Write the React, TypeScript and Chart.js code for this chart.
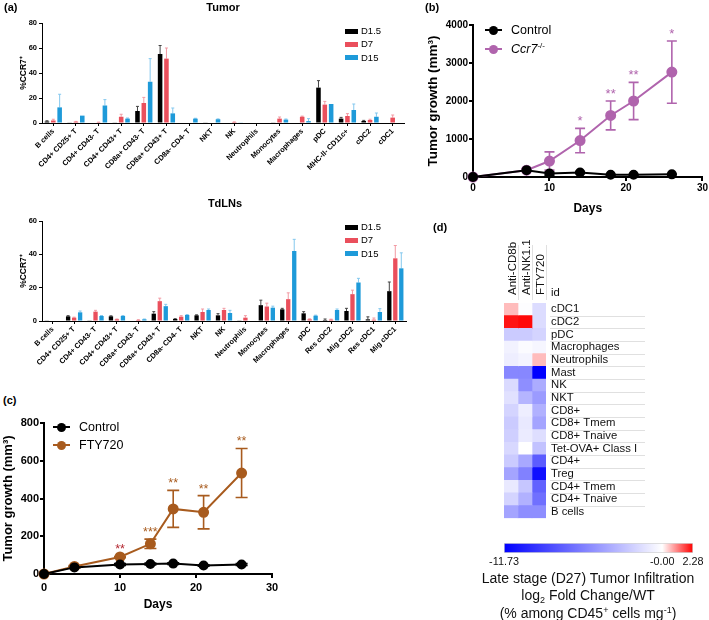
import React, { useEffect, useRef } from 'react';
import { Chart, registerables } from 'chart.js';
Chart.register(...registerables);

const FONT = "Arial, 'Liberation Sans', Helvetica, sans-serif";

// ---------- (a) Tumor ----------
const tumorCategories = ['B cells', 'CD4+ CD25+ T', 'CD4+ CD43- T', 'CD4+ CD43+ T', 'CD8a+ CD43- T', 'CD8a+ CD43+ T', 'CD8a- CD4- T', 'NKT', 'NK', 'Neutrophils', 'Monocytes', 'Macrophages', 'pDC', 'MHC-II- CD11c+', 'cDC2', 'cDC1'];
const tumorD15Day = [1.2, 0.3, 0, 0.3, 9.6, 55.2, 0, 0.3, 0, 0, 0.3, 0, 28.3, 3.5, 1.6, 0];
const tumorD15DayErr = [0.6, 0, 0, 0, 3.7, 6.8, 0, 0, 0, 0, 0, 0, 5.6, 1, 0.5, 0];
const tumorD7 = [2, 1, 0.5, 5, 16, 51.5, 0, 0.4, 0.7, 0, 3.5, 5, 14.7, 5.6, 2.4, 4.3];
const tumorD7Err = [1, 0.3, 0.2, 2, 4.5, 8.5, 0, 0, 0.2, 0, 1.3, 0.5, 2.6, 1.9, 0.6, 2.1];
const tumorD15 = [12.5, 5.9, 14, 3.5, 33, 7.7, 3.5, 3, 0.3, 0, 2.7, 1.5, 15.2, 10.4, 5, 0];
const tumorD15Err = [10.5, 0, 4.7, 0.5, 18.5, 4.3, 0.3, 0.3, 0, 0, 0.5, 2, 0, 4.8, 3, 0];

// ---------- (a) TdLNs ----------
const lnCategories = ['B cells', 'CD4+ CD25+ T', 'CD4+ CD43- T', 'CD4+ CD43+ T', 'CD8a+ CD43- T', 'CD8a+ CD43+ T', 'CD8a- CD4- T', 'NKT', 'NK', 'Neutrophils', 'Monocytes', 'Macrophages', 'pDC', 'Res cDC2', 'Mig cDC2', 'Res cDC1', 'Mig cDC1'];
const lnD15Day = [0.4, 2.8, 0.4, 2.8, 0, 4.4, 1.2, 3.4, 3.4, 0.2, 9.5, 7, 4.6, 0.6, 6, 1, 17.9];
const lnD15DayErr = [0, 0.4, 0, 0.3, 0, 1.2, 0.2, 0.3, 1, 0, 3, 0.6, 1, 0.6, 1.6, 1.5, 5.5];
const lnD7 = [0.3, 2, 5.6, 1, 0.6, 11.9, 2.6, 5.4, 6.6, 2, 8.7, 13.1, 1, 0.8, 16.1, 0.8, 37.6];
const lnD7Err = [0, 0.3, 0.8, 0.2, 0.2, 1.8, 0.6, 1.8, 1, 1.2, 2, 3.8, 0.3, 0.3, 2.4, 1, 7.7];
const lnD15 = [0.3, 5.2, 3, 3, 1, 8.9, 3.6, 6.6, 4.8, 0.3, 8, 42, 3.2, 6.6, 23.1, 5.4, 31.6];
const lnD15Err = [0, 0.8, 0.3, 0.3, 0.2, 1.1, 0.3, 0.6, 1.6, 0, 0.9, 7, 0.3, 0.6, 2.5, 2, 9.3];

// ---------- (b) ----------
const bDays = [0, 7, 10, 14, 18, 21, 26];
const bControl = [0, 180, 90, 120, 60, 60, 70];
const bControlErr = [0, 25, 40, 25, 10, 10, 10];
const bCcr7 = [0, 180, 420, 960, 1620, 2000, 2760];
const bCcr7Err = [0, 20, 240, 320, 380, 490, 820];
const bStars = ['', '', '', '*', '**', '**', '*'];

// ---------- (c) ----------
const cDays = [0, 4, 10, 14, 17, 21, 26];
const cControl = [0, 35, 50, 53, 55, 45, 50];
const cControlErr = [0, 4, 5, 5, 5, 4, 5];
const cFty = [0, 40, 90, 160, 345, 327, 535];
const cFtyErr = [0, 5, 3, 25, 98, 88, 130];
const cStars = ['', '', '**', '***', '**', '**', '**'];

// ---------- (d) heatmap ----------
const heatRows = ['cDC1', 'cDC2', 'pDC', 'Macrophages', 'Neutrophils', 'Mast', 'NK', 'NKT', 'CD8+', 'CD8+ Tmem', 'CD8+ Tnaive', 'Tet-OVA+ Class I', 'CD4+', 'Treg', 'CD4+ Tmem', 'CD4+ Tnaive', 'B cells'];
const heatCols = ['Anti-CD8b', 'Anti-NK1.1', 'FTY720'];
const heatAntiCD8b = [0.6, 2.1, -2.4, -0.6, -0.8, -5.5, -1.7, -1.4, -2.0, -2.4, -2.2, -1.8, -2.4, -4.2, -1.0, -2.0, -4.2];
const heatAntiNK = [-0.1, 2.2, -2.4, -0.2, -0.5, -5.5, -5.2, -3.4, -0.8, -1.0, -0.9, 0, -4.0, -5.8, -2.6, -3.6, -5.2];
const heatFTY = [-1.6, -1.6, -2.0, -0.4, 0.6, -11.73, -3.8, -4.6, -3.6, -4.2, -1.5, -2.8, -7.5, -11.0, -7.2, -6.6, -5.2];
const cbMin = -11.73;
const cbMax = 2.28;
const cbTickValues = [-11.73, 0, 2.28];
const cbTickLabels = ['-11.73', '-0.00', '2.28'];

function heatColor(v: number) {
  if (v < 0) {
    const t = Math.min(1, v / cbMin);
    const c = Math.round(255 * (1 - t));
    return `rgb(${c},${c},255)`;
  }
  const t = Math.min(1, v / cbMax);
  const c = Math.round(255 * (1 - t));
  return `rgb(255,${c},${c})`;
}

// ---------- plugins ----------
const errorBarPlugin = {
  id: 'errorBars',
  beforeDatasetsDraw(chart: any) {
    const ctx = chart.ctx;
    chart.data.datasets.forEach((ds: any, di: number) => {
      const errs = ds.errors;
      if (!errs) return;
      const meta = chart.getDatasetMeta(di);
      const yScale = chart.scales[meta.yAxisID];
      ctx.save();
      ctx.strokeStyle = ds.errorColor;
      ctx.lineWidth = ds.errorWidth || 1;
      meta.data.forEach((el: any, i: number) => {
        const e = errs[i];
        const raw = ds.data[i];
        const val = typeof raw === 'object' ? raw.y : raw;
        const yHi = yScale.getPixelForValue(val + (e || 0));
        if (e) {
          const yLo = ds.errorBoth ? yScale.getPixelForValue(val - e) : yScale.getPixelForValue(val);
          const x = el.x;
          const cap = ds.errorCap;
          ctx.beginPath();
          ctx.moveTo(x, yLo);
          ctx.lineTo(x, yHi);
          ctx.moveTo(x - cap / 2, yHi);
          ctx.lineTo(x + cap / 2, yHi);
          if (ds.errorBoth) {
            ctx.moveTo(x - cap / 2, yLo);
            ctx.lineTo(x + cap / 2, yLo);
          }
          ctx.stroke();
        }
        if (ds.stars && ds.stars[i]) {
          ctx.fillStyle = ds.starColors ? ds.starColors[i] : ds.errorColor;
          ctx.font = `${ds.starSize || 13}px ${FONT}`;
          ctx.textAlign = 'center';
          ctx.textBaseline = 'alphabetic';
          ctx.fillText(ds.stars[i], el.x, yHi - 3);
        }
      });
      ctx.restore();
    });
  },
};
Chart.register(errorBarPlugin);

// local plugin for the heatmap only
const heatDecorPlugin = {
  id: 'heatDecor',
  afterDraw(chart: any) {
    const { ctx, chartArea } = chart;
    const ys = chart.scales.y;
    const xs = chart.scales.x;
    const n = heatRows.length;
    const rowH = (chartArea.bottom - chartArea.top) / n;
    ctx.save();
    ctx.strokeStyle = '#e0e0e0';
    ctx.lineWidth = 1;
    ctx.beginPath();
    for (let i = 0; i < n - 1; i++) {
      const y = Math.round(ys.getPixelForValue(i) + rowH / 2) + 0.5;
      ctx.moveTo(chartArea.right + 4, y);
      ctx.lineTo(chartArea.right + 99, y);
    }
    for (let j = 1; j <= heatCols.length; j++) {
      const x = Math.round(xs.getPixelForValue(j)) + 0.5;
      ctx.moveTo(x, chartArea.top - 58);
      ctx.lineTo(x, chartArea.top - 3);
    }
    ctx.stroke();
    ctx.fillStyle = '#111';
    ctx.font = `11.5px ${FONT}`;
    ctx.textAlign = 'left';
    ctx.textBaseline = 'middle';
    heatCols.forEach((c, j) => {
      const x = xs.getPixelForValue(j + 0.5) + 1.5;
      ctx.save();
      ctx.translate(x, chartArea.top - 8);
      ctx.rotate(-Math.PI / 2);
      ctx.fillText(c, 0, 0);
      ctx.restore();
    });
    ctx.restore();
  },
};

// ---------- configs ----------
function barConfig(cats: string[], series: any[], yMax: number, yStep: number, opts: any) {
  return {
    type: 'bar',
    data: {
      labels: cats,
      datasets: series.map((s) => ({
        label: s.label,
        data: s.data,
        backgroundColor: s.color,
        errors: s.err,
        errorColor: s.errColor,
        errorCap: 3,
        errorWidth: 1,
        borderWidth: 0,
      })),
    },
    options: {
      animation: false,
      responsive: false,
      devicePixelRatio: 1,
      layout: { padding: { top: opts.padTop, right: opts.padRight, left: 0, bottom: 0 } },
      plugins: { legend: { display: false }, tooltip: { enabled: false }, title: { display: false } },
      datasets: { bar: { categoryPercentage: 0.84, barPercentage: 0.72 } },
      scales: {
        x: {
          grid: { display: true, drawOnChartArea: false, drawTicks: true, tickLength: 3, color: '#000', offset: false },
          border: { color: '#000', width: 1 },
          ticks: { autoSkip: false, maxRotation: 45, minRotation: 45, padding: 1, color: '#000', font: { family: FONT, size: 7.4, weight: 'bold' } },
          afterFit: (s: any) => { s.height = opts.xHeight; },
        },
        y: {
          min: 0,
          max: yMax,
          ticks: { stepSize: yStep, padding: 2, color: '#000', font: { family: FONT, size: 7.5, weight: 'bold' } },
          grid: { display: true, drawOnChartArea: false, drawTicks: true, tickLength: 3, color: '#000' },
          border: { color: '#000', width: 1 },
          title: { display: true, text: '%CCR7⁺', color: '#000', font: { family: FONT, size: 8.5, weight: 'bold' }, padding: { top: 19, bottom: 0 } },
          afterFit: (s: any) => { s.width = 42; },
        },
      },
    },
  };
}

function lineConfig(days: number[], series: any[], yMax: number, yStep: number, o: any) {
  return {
    type: 'line',
    data: {
      datasets: series.map((s) => ({
        label: s.label,
        data: days.map((d, i) => ({ x: d, y: s.data[i] })),
        borderColor: s.color,
        backgroundColor: s.color,
        pointBackgroundColor: s.color,
        pointBorderColor: s.color,
        pointRadius: s.r,
        borderWidth: 2,
        clip: false,
        errors: s.err,
        errorBoth: true,
        errorColor: s.color,
        errorCap: o.cap,
        errorWidth: 1.6,
        stars: s.stars,
        starColors: s.starColors,
        starSize: o.starSize,
      })),
    },
    options: {
      animation: false,
      responsive: false,
      devicePixelRatio: 1,
      layout: { padding: { top: o.padTop, right: o.padRight, left: 0, bottom: 0 } },
      plugins: { legend: { display: false }, tooltip: { enabled: false } },
      scales: {
        x: {
          type: 'linear',
          min: 0,
          max: 30,
          ticks: { stepSize: 10, padding: o.xTickPad, color: '#000', font: { family: FONT, size: o.tickSize, weight: 'bold' } },
          grid: { display: true, drawOnChartArea: false, drawTicks: true, tickLength: 4, color: '#000', lineWidth: 2 },
          border: { color: '#000', width: 2 },
          title: { display: true, text: 'Days', color: '#000', font: { family: FONT, size: o.daysSize, weight: 'bold' }, padding: { top: 0, bottom: o.daysPad } },
          afterFit: (s: any) => { s.height = o.xHeight; },
        },
        y: {
          min: 0,
          max: yMax,
          ticks: { stepSize: yStep, padding: 1, color: '#000', font: { family: FONT, size: o.tickSize, weight: 'bold' }, callback: (v: any) => String(v) },
          grid: { display: true, drawOnChartArea: false, drawTicks: true, tickLength: 4, color: '#000', lineWidth: 2 },
          border: { color: '#000', width: 2 },
          title: { display: true, text: 'Tumor growth (mm³)', color: '#000', font: { family: FONT, size: o.yTitleSize, weight: 'bold' }, padding: { top: o.yTitlePad, bottom: 0 } },
          afterFit: (s: any) => { s.width = o.yWidth; },
        },
      },
    },
  };
}

function heatConfig() {
  const cols = [heatAntiCD8b, heatAntiNK, heatFTY];
  return {
    type: 'bar',
    data: {
      labels: heatRows,
      datasets: heatCols.map((c, j) => ({
        label: c,
        data: heatRows.map(() => [j, j + 1]),
        backgroundColor: cols[j].map(heatColor),
        borderWidth: 0,
      })),
    },
    plugins: [heatDecorPlugin],
    options: {
      animation: false,
      responsive: false,
      devicePixelRatio: 1,
      indexAxis: 'y',
      layout: { padding: { left: 64, right: 0, top: 83, bottom: 0 } },
      plugins: { legend: { display: false }, tooltip: { enabled: false } },
      datasets: { bar: { barPercentage: 1, categoryPercentage: 1, grouped: false } },
      scales: {
        x: { type: 'linear', min: 0, max: 3, display: false },
        y: {
          type: 'category',
          position: 'right',
          grid: { display: false, drawTicks: false },
          border: { display: false },
          ticks: { autoSkip: false, padding: 5, color: '#111', font: { family: FONT, size: 11.3 } },
          afterFit: (s: any) => { s.width = 163; },
        },
      },
    },
  };
}

function colorbarConfig() {
  return {
    type: 'bar',
    data: {
      labels: [''],
      datasets: [{
        data: [[cbMin, cbMax]],
        borderWidth: 1,
        borderColor: '#d4d4d4',
        borderSkipped: false,
        backgroundColor: (c: any) => {
          const chart = c.chart;
          const xs = chart.scales.x;
          if (!chart.chartArea || !xs) return '#00f';
          const x0 = xs.getPixelForValue(cbMin);
          const x1 = xs.getPixelForValue(cbMax);
          const g = chart.ctx.createLinearGradient(x0, 0, x1, 0);
          const zero = (0 - cbMin) / (cbMax - cbMin);
          g.addColorStop(0, '#0000ff');
          g.addColorStop(zero, '#ffffff');
          g.addColorStop(1, '#ff0000');
          return g;
        },
      }],
    },
    options: {
      animation: false,
      responsive: false,
      devicePixelRatio: 1,
      indexAxis: 'y',
      layout: { padding: { left: 64, right: 16, top: 8, bottom: 0 } },
      plugins: { legend: { display: false }, tooltip: { enabled: false } },
      datasets: { bar: { barPercentage: 1, categoryPercentage: 1 } },
      scales: {
        x: {
          type: 'linear',
          min: cbMin,
          max: cbMax,
          afterBuildTicks: (s: any) => { s.ticks = cbTickValues.map((v) => ({ value: v })); },
          ticks: { autoSkip: false, maxRotation: 0, padding: 3, color: '#111', font: { family: FONT, size: 10.8 }, callback: (_v: any, i: number) => cbTickLabels[i] },
          grid: { display: false, drawTicks: false },
          border: { display: false },
          afterFit: (s: any) => { s.height = 22; },
        },
        y: { display: false },
      },
    },
  };
}

// ---------- components ----------
function ChartCanvas({ left, top, width, height, make }: any) {
  const ref = useRef<HTMLCanvasElement>(null);
  useEffect(() => {
    const chart = new Chart(ref.current as HTMLCanvasElement, make());
    return () => chart.destroy();
  }, []);
  return <canvas ref={ref} width={width} height={height} style={{ position: 'absolute', left, top, width, height }} />;
}

function Txt({ x, y, size, bold, color = '#000', align = 'left', children, italic }: any) {
  return (
    <div style={{
      position: 'absolute', left: x, top: y, transform: `translate(${align === 'center' ? '-50%' : '0'}, -50%)`,
      fontFamily: FONT, fontSize: size, fontWeight: bold ? 'bold' : 'normal', fontStyle: italic ? 'italic' : 'normal',
      whiteSpace: 'nowrap', lineHeight: 1, color,
    }}>{children}</div>
  );
}

function Rect({ x, y, w, h, color }: any) {
  return <div style={{ position: 'absolute', left: x, top: y, width: w, height: h, background: color }} />;
}

function LineMarker({ x, y, color }: any) {
  return (
    <>
      <div style={{ position: 'absolute', left: x, top: y - 1, width: 17, height: 2, background: color }} />
      <div style={{ position: 'absolute', left: x + 4, top: y - 4.5, width: 9, height: 9, borderRadius: '50%', background: color }} />
    </>
  );
}

const C_D15 = '#000000';
const C_D7 = '#ea4f5c';
const C_D15b = '#1e9ad9';
const C_PURPLE = '#b064ad';
const C_BROWN = '#a85b1e';

export default function App() {
  const tumorSeries = [
    { label: 'D1.5', data: tumorD15Day, err: tumorD15DayErr, color: C_D15, errColor: '#444' },
    { label: 'D7', data: tumorD7, err: tumorD7Err, color: C_D7, errColor: '#f29aa3' },
    { label: 'D15', data: tumorD15, err: tumorD15Err, color: C_D15b, errColor: '#84c8ee' },
  ];
  const lnSeries = [
    { label: 'D1.5', data: lnD15Day, err: lnD15DayErr, color: C_D15, errColor: '#444' },
    { label: 'D7', data: lnD7, err: lnD7Err, color: C_D7, errColor: '#f29aa3' },
    { label: 'D15', data: lnD15, err: lnD15Err, color: C_D15b, errColor: '#84c8ee' },
  ];
  const legendA = (y0: number) => (
    <>
      {[['D1.5', C_D15], ['D7', C_D7], ['D15', C_D15b]].map(([t, c], i) => (
        <React.Fragment key={t}>
          <Rect x={345} y={y0 + i * 13.3 - 2.5} w={13} h={5} color={c} />
          <Txt x={361} y={y0 + i * 13.3} size={9.5}>{t}</Txt>
        </React.Fragment>
      ))}
    </>
  );
  return (
    <div style={{ position: 'absolute', left: 0, top: 0, width: 709, height: 620, background: '#fff', overflow: 'hidden' }}>
      {/* (a) Tumor */}
      <ChartCanvas left={0} top={0} width={420} height={180}
        make={() => barConfig(tumorCategories, tumorSeries, 80, 20, { padTop: 23, padRight: 16, xHeight: 57 })} />
      <Txt x={4} y={7} size={11} bold>(a)</Txt>
      <Txt x={223} y={7} size={11} bold align="center">Tumor</Txt>
      {legendA(31)}

      {/* (a) TdLNs */}
      <ChartCanvas left={0} top={195} width={420} height={180}
        make={() => barConfig(lnCategories, lnSeries, 60, 20, { padTop: 26, padRight: 14, xHeight: 54 })} />
      <Txt x={225} y={203} size={11} bold align="center">TdLNs</Txt>
      {legendA(227)}

      {/* (b) */}
      <ChartCanvas left={420} top={0} width={289} height={220}
        make={() => lineConfig(bDays, [
          { label: 'Control', data: bControl, err: bControlErr, color: '#000', r: 4 },
          { label: 'Ccr7-/-', data: bCcr7, err: bCcr7Err, color: C_PURPLE, r: 4.5, stars: bStars },
        ], 4000, 1000, { padTop: 25, padRight: 6, xHeight: 43, yWidth: 53, tickSize: 10, daysSize: 12, daysPad: 4, yTitleSize: 13.5, yTitlePad: 5, xTickPad: 1, cap: 10, starSize: 13 })} />
      <Txt x={425} y={7} size={11} bold>(b)</Txt>
      <LineMarker x={485} y={30} color="#000" />
      <Txt x={511} y={30} size={12.5}>Control</Txt>
      <LineMarker x={485} y={49} color={C_PURPLE} />
      <Txt x={511} y={49} size={12.5}><i>Ccr7</i><sup style={{ fontSize: 8, verticalAlign: '5px' }}>-/-</sup></Txt>

      {/* (c) */}
      <ChartCanvas left={0} top={410} width={300} height={210}
        make={() => lineConfig(cDays, [
          { label: 'Control', data: cControl, err: cControlErr, color: '#000', r: 4 },
          { label: 'FTY720', data: cFty, err: cFtyErr, color: C_BROWN, r: 4.5, stars: cStars, starColors: cStars.map((_, i) => (i === 2 ? '#b3262f' : C_BROWN)) },
        ], 800, 200, { padTop: 13, padRight: 28, xHeight: 46, yWidth: 44, tickSize: 11, daysSize: 12, daysPad: 8, yTitleSize: 13, yTitlePad: 1, xTickPad: 3, cap: 12, starSize: 12.5 })} />
      <Txt x={3} y={400} size={11} bold>(c)</Txt>
      <LineMarker x={53} y={427} color="#000" />
      <Txt x={79} y={427} size={12.5}>Control</Txt>
      <LineMarker x={53} y={445} color={C_BROWN} />
      <Txt x={79} y={445} size={12.5}>FTY720</Txt>

      {/* (d) */}
      <Txt x={433} y={227} size={11} bold>(d)</Txt>
      <ChartCanvas left={440} top={220} width={269} height={310} make={heatConfig} />
      <Txt x={551} y={293} size={11.3} color="#111">id</Txt>
      <ChartCanvas left={440} top={535} width={269} height={40} make={colorbarConfig} />
      <Txt x={588} y={578} size={14} align="center" color="#111">Late stage (D27) Tumor Infiltration</Txt>
      <Txt x={588} y={596} size={14} align="center" color="#111">log<sub style={{ fontSize: 9, verticalAlign: '-3px' }}>2</sub> Fold Change/WT</Txt>
      <Txt x={588} y={613} size={14} align="center" color="#111">(% among CD45<sup style={{ fontSize: 9, verticalAlign: '5px' }}>+</sup> cells mg<sup style={{ fontSize: 9, verticalAlign: '5px' }}>-1</sup>)</Txt>
    </div>
  );
}
